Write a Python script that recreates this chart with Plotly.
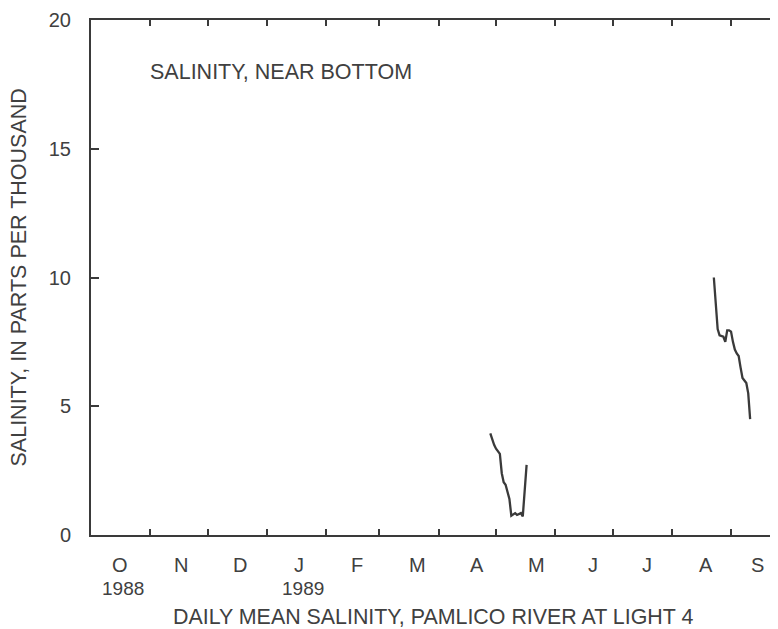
import plotly.graph_objects as go

# ---- data ----
spring_dates = ["1989-04-28", "1989-04-29", "1989-04-30", "1989-05-01", "1989-05-02",
                "1989-05-03", "1989-05-04", "1989-05-05", "1989-05-06", "1989-05-07",
                "1989-05-08", "1989-05-09", "1989-05-10", "1989-05-11", "1989-05-12",
                "1989-05-13", "1989-05-14", "1989-05-15", "1989-05-16", "1989-05-17"]
spring_salinity = [3.95, 3.7, 3.5, 3.35, 3.25, 3.15, 2.4, 2.05, 1.95, 1.65,
                   1.4, 0.75, 0.8, 0.85, 0.78, 0.8, 0.85, 0.72, 1.7, 2.72]

late_dates = ["1989-08-23", "1989-08-24", "1989-08-25", "1989-08-26", "1989-08-27",
              "1989-08-28", "1989-08-29", "1989-08-30", "1989-08-31", "1989-09-01",
              "1989-09-02", "1989-09-03", "1989-09-04", "1989-09-05", "1989-09-06",
              "1989-09-07", "1989-09-08", "1989-09-09", "1989-09-10", "1989-09-11"]
late_salinity = [10.0, 9.0, 8.0, 7.75, 7.72, 7.7, 7.5, 7.95, 7.95, 7.9,
                 7.5, 7.2, 7.05, 6.95, 6.5, 6.1, 6.0, 5.9, 5.5, 4.5]

month_starts = ["1988-10-01", "1988-11-01", "1988-12-01", "1989-01-01", "1989-02-01",
                "1989-03-01", "1989-04-01", "1989-05-01", "1989-06-01", "1989-07-01",
                "1989-08-01", "1989-09-01", "1989-10-01"]
# label positions as printed on the original chart
month_label_dates = ["1988-10-16", "1988-11-17", "1988-12-18", "1989-01-18", "1989-02-17",
                     "1989-03-21", "1989-04-21", "1989-05-22", "1989-06-21", "1989-07-19",
                     "1989-08-19", "1989-09-15"]
month_letters = ["O", "N", "D", "J", "F", "M", "A", "M", "J", "J", "A", "S"]
year_label_dates = ["1988-10-18", "1989-01-20"]
year_labels = ["1988", "1989"]
y_ticks = [0, 5, 10, 15, 20]

x_range = ["1988-10-01", "1989-09-25 14:00"]
y_range = [0, 20]

LINE = "#3a3a3a"
TEXT = "#404040"
FONT = "Liberation Sans, Arial, sans-serif"

fig = go.Figure()
fig.add_trace(go.Scatter(x=spring_dates, y=spring_salinity, mode="lines",
                         line=dict(color=LINE, width=2.3), showlegend=False,
                         hoverinfo="x+y"))
fig.add_trace(go.Scatter(x=late_dates, y=late_salinity, mode="lines", yaxis="y2",
                         line=dict(color=LINE, width=2.3), showlegend=False,
                         hoverinfo="x+y"))

annotations = []
for m, lab in zip(month_label_dates, month_letters):
    annotations.append(dict(x=m, y=0, xref="x", yref="paper", text=lab,
                            showarrow=False, xanchor="center", yanchor="middle",
                            yshift=-30, font=dict(size=20, color=TEXT, family=FONT)))
for m, lab in zip(year_label_dates, year_labels):
    annotations.append(dict(x=m, y=0, xref="x", yref="paper", text=lab,
                            showarrow=False, xanchor="center", yanchor="middle",
                            yshift=-53, font=dict(size=19, color=TEXT, family=FONT)))
annotations.append(dict(x=0.5, y=0, xref="paper", yref="paper",
                        text="DAILY MEAN SALINITY, PAMLICO RIVER AT LIGHT 4",
                        showarrow=False, xanchor="center", yanchor="middle",
                        xshift=-2, yshift=-82,
                        font=dict(size=21.4, color=TEXT, family=FONT)))
annotations.append(dict(x=0, y=0.5, xref="paper", yref="paper",
                        text="SALINITY, IN PARTS PER THOUSAND", textangle=-90,
                        showarrow=False, xanchor="center", yanchor="middle",
                        xshift=-73, font=dict(size=21.5, color=TEXT, family=FONT)))
annotations.append(dict(x=0, y=1, xref="paper", yref="paper",
                        text="SALINITY, NEAR BOTTOM",
                        showarrow=False, xanchor="left", yanchor="middle",
                        xshift=57, yshift=-52,
                        font=dict(size=21.5, color=TEXT, family=FONT)))

fig.update_layout(
    width=770, height=621,
    margin=dict(l=83, r=0, t=12, b=94),
    paper_bgcolor="white", plot_bgcolor="white",
    annotations=annotations,
    xaxis=dict(type="date", range=x_range, tickmode="array", tickvals=month_starts,
               showticklabels=False, ticks="inside", ticklen=6, tickwidth=1.5,
               tickcolor=LINE, showline=True, linecolor=LINE, linewidth=2,
               mirror="ticks", showgrid=False, zeroline=False),
    yaxis=dict(range=y_range, tickmode="array", tickvals=y_ticks,
               ticks="inside", ticklen=8, tickwidth=1.5, tickcolor=LINE,
               showline=True, linecolor=LINE, linewidth=2, showgrid=False,
               zeroline=False, ticklabelstandoff=14,
               tickfont=dict(size=20, color=TEXT, family=FONT)),
    yaxis2=dict(range=y_range, overlaying="y", side="right", tickmode="array",
                tickvals=y_ticks, ticks="inside", ticklen=6, tickwidth=1.5,
                tickcolor=LINE, showline=False, showticklabels=False,
                showgrid=False, zeroline=False),
)

fig.write_html("out.html")
